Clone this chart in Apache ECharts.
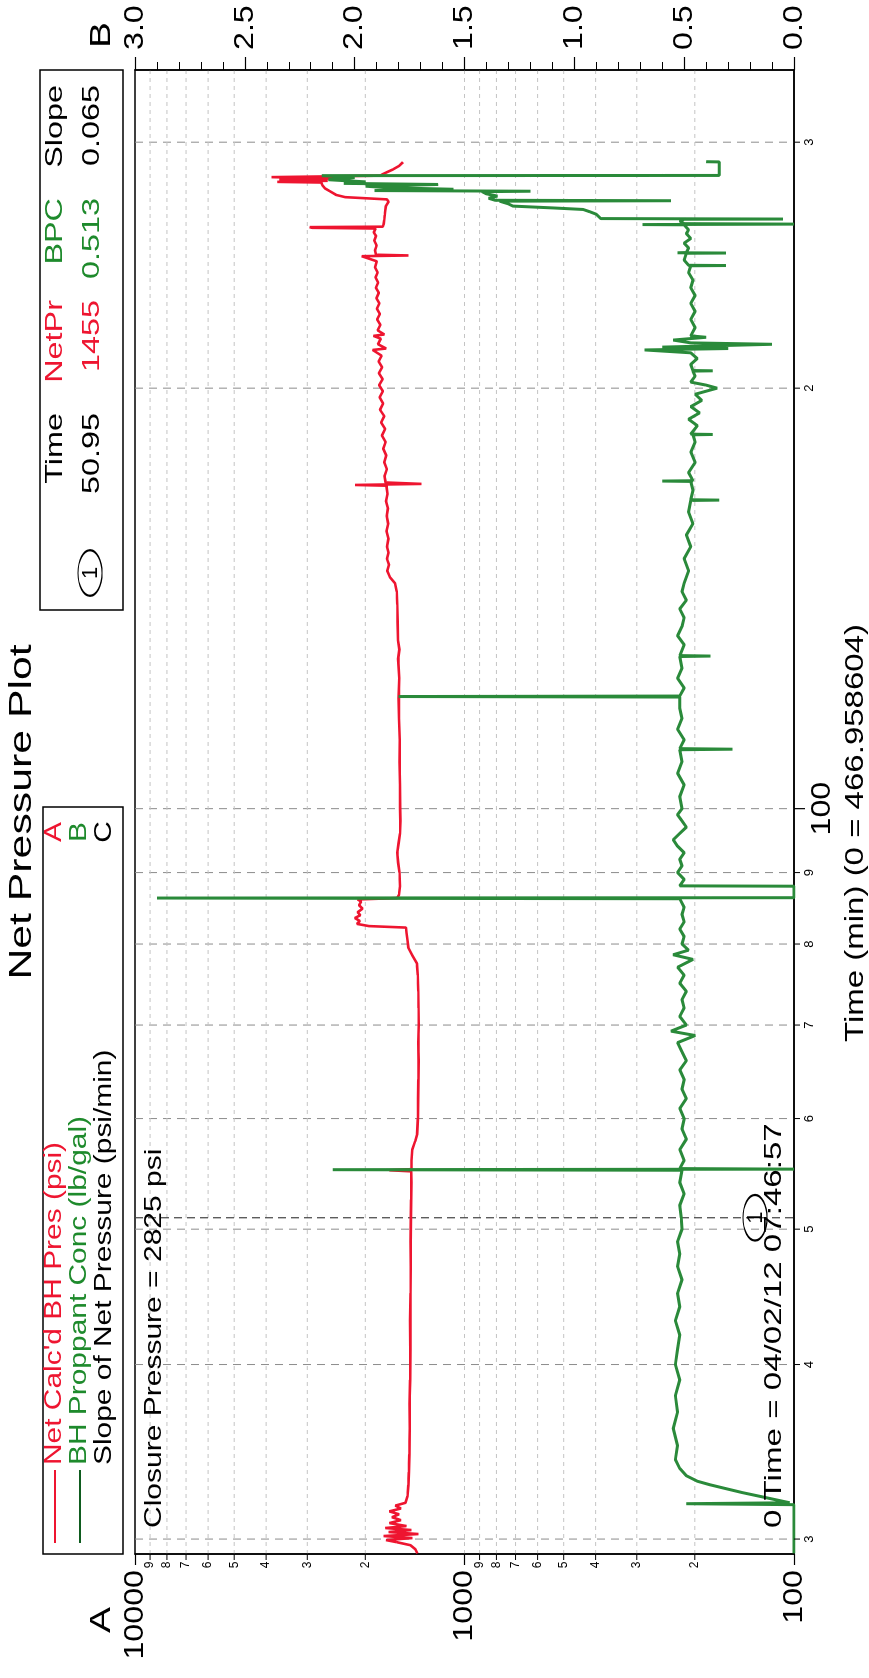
<!DOCTYPE html>
<html>
<head>
<meta charset="utf-8">
<script src="https://cdn.jsdelivr.net/npm/echarts@6/dist/echarts.min.js"></script>
<style>
html, body { margin: 0; padding: 0; background: #fff; width: 869px; height: 1678px; overflow: hidden; }
/* chart is drawn landscape, then turned a quarter left like the scanned page */
#main { position: absolute; left: 0; top: 0; width: 1678px; height: 869px;
        transform-origin: 0 0; transform: translateY(1678px) rotate(-90deg); }
</style>
</head>
<body>
<div id="main"></div>
<script>
const chart = echarts.init(document.getElementById('main'));
const FONT = "'Liberation Sans', Arial, Helvetica, sans-serif";

// axis ticks / labels
const timeMinorTicks = [30, 40, 50, 60, 70, 80, 90, 200, 300];
const timeMinorLabels = ['3', '4', '5', '6', '7', '8', '9', '2', '3'];
const timeMajorTicks = [100];
const presMajorTicks = [100, 1000, 10000];
const presMinorTicks = [200, 300, 400, 500, 600, 700, 800, 900, 2000, 3000, 4000, 5000, 6000, 7000, 8000, 9000];
const presMinorLabels = ['2', '3', '4', '5', '6', '7', '8', '9', '2', '3', '4', '5', '6', '7', '8', '9'];
const bpcTicks = [0, 0.5, 1.0, 1.5, 2.0, 2.5, 3.0];

// Net Calc'd BH Pres (psi)  [time, psi]
const netPr = [
  [29.3,1390],[29.5,1410],[29.7,1460],[29.85,1610],[29.95,1730],[30.05,1440],[30.15,1760],[30.25,1380],
  [30.35,1700],[30.45,1450],[30.55,1740],[30.65,1500],[30.8,1690],[30.95,1560],[31.1,1660],[31.25,1580],
  [31.4,1690],[31.55,1560],[31.7,1620],[31.85,1510],[32.2,1490],[32.8,1480],[33.5,1475],[34.5,1470],
  [36,1466],[37.5,1468],[39,1462],[41,1460],[43,1462],[45,1458],[47,1456],[49,1457],[50.95,1455],
  [52.5,1452],[54,1450],[55.0,1452],[55.1,1690],[55.2,1450],[56,1448],[57,1440],[57.8,1412],[58.5,1392],
  [60,1385],[62,1383],[64,1380],[66,1378],[68,1381],[70,1377],[72,1379],[74,1382],[76,1386],[77.5,1395],
  [78.5,1440],[79.5,1480],[80.5,1490],[81.5,1500],[82.2,1505],[82.4,1950],[82.7,2120],[83.1,2080],
  [83.5,2150],[83.9,2070],[84.3,2110],[84.8,2040],[85.3,2090],[85.8,2060],[86.1,2110],[86.3,1600],
  [86.8,1580],[88,1570],[90,1575],[91.5,1590],[93,1600],[94.5,1585],[96,1570],[98,1565],[100,1568],
  [104,1570],[108,1575],[112,1572],[116,1580],[120,1585],[124,1578],[128,1590],[130,1576],[132,1592],
  [136,1596],[140,1600],[143,1606],[145,1625],[146.5,1685],[148,1715],[149.5,1695],[151,1720],[152.5,1700],
  [154,1718],[156,1702],[158,1725],[160,1705],[162,1722],[164,1708],[166,1730],[168,1712],[170.3,1726],
  [170.5,2150],[170.8,1350],[171.2,1735],[173,1750],[175,1720],[177,1752],[179,1728],[181,1765],[183,1735],
  [185,1780],[187,1742],[189,1790],[191,1752],[193,1805],[195,1765],[197,1810],[199,1770],[201,1815],
  [203,1772],[205,1818],[207,1778],[209,1822],[211,1785],[213,1900],[213.5,1730],[215,1830],[217,1795],
  [218,1890],[218.5,1750],[220,1835],[222,1800],[224,1842],[226,1806],[228,1845],[230,1812],[232,1850],
  [234,1820],[236,1858],[238,1828],[240,1862],[242,1835],[244,1868],[246.5,1845],[248.6,2050],[248.9,1480],
  [249.2,1855],[251,1870],[253,1848],[255,1878],[257,1855],[258.5,1885],[260.2,1860],[260.5,2900],
  [260.8,2950],[261.0,1770],[262,1760],[264,1752],[266,1745],[268,1740],[270,1732],[272,1700],[273,1720],
  [274,2300],[275,2450],[276.5,2550],[278,2650],[279.5,2700],[280.7,2720],[281.0,3700],[281.5,2600],
  [282.0,3650],[282.6,2500],[283.2,3850],[283.9,1800],[284.6,1770],[285.5,1720],[286.8,1650],[288.5,1580],
  [290.3,1537]
];

// BH Proppant Conc (lb/gal)  [time, lb/gal]
const bpc = [
  [29.3,0],[31.75,0],[31.8,0.49],[31.85,0.02],[32.0,0.08],[32.2,0.16],[32.4,0.24],[32.6,0.31],[32.8,0.38],
  [33.0,0.44],[33.3,0.49],[33.7,0.52],[34.2,0.54],[35,0.53],[36,0.55],[37,0.53],[38,0.54],[39,0.52],
  [40,0.54],[41,0.53],[42,0.52],[43,0.54],[44,0.52],[45,0.53],[46,0.51],[47,0.53],[48,0.52],[49,0.53],
  [50,0.51],[50.95,0.513],[52,0.52],[53,0.50],[54,0.52],[55.1,0.51],[55.15,2.10],[55.2,0.0],[55.25,0.52],
  [56,0.50],[57,0.52],[58,0.49],[59,0.51],[60,0.50],[61,0.52],[62,0.49],[63,0.51],[64,0.50],[65,0.52],
  [66,0.49],[67,0.51],[68,0.53],[68.8,0.45],[69.3,0.56],[70,0.49],[71,0.52],[72,0.50],[73,0.51],[74,0.49],
  [75,0.52],[76,0.50],[77,0.53],[78,0.46],[78.6,0.55],[79.2,0.48],[80,0.51],[81,0.50],[82,0.52],[83,0.50],
  [84,0.51],[85,0.50],[86.2,0.52],[86.3,2.90],[86.35,0.0],[88.0,0.0],[88.05,0.52],[89,0.50],[90,0.53],
  [91,0.51],[92,0.52],[93,0.50],[94,0.53],[95,0.55],[96,0.52],[97,0.49],[98,0.51],[99,0.53],[100,0.51],
  [102,0.52],[104,0.50],[106,0.53],[108,0.51],[110.2,0.52],[110.3,0.28],[110.4,0.52],[112,0.50],[114,0.53],
  [116,0.51],[118,0.52],[120.2,0.52],[120.3,1.80],[120.4,0.52],[122,0.50],[124,0.53],[126,0.51],[128.5,0.52],
  [128.6,0.38],[128.7,0.52],[131,0.50],[133,0.53],[135,0.51],[137,0.50],[139,0.52],[141,0.49],[143,0.51],
  [145,0.50],[148,0.48],[151,0.50],[154,0.47],[157,0.49],[160,0.46],[163,0.48],[166.2,0.47],[166.3,0.34],
  [166.4,0.47],[169,0.46],[171.5,0.47],[171.6,0.60],[171.7,0.46],[174,0.48],[177,0.45],[180,0.47],[183,0.45],
  [185.2,0.46],[185.3,0.37],[185.4,0.47],[188,0.44],[190,0.48],[192,0.43],[194,0.47],[196,0.42],[198,0.45],
  [199,0.40],[200,0.35],[201,0.40],[202,0.47],[204,0.45],[205.7,0.46],[205.8,0.37],[205.9,0.46],[208,0.47],
  [210,0.44],[212,0.47],[213,0.68],[213.5,0.30],[214,0.60],[215,0.10],[215.5,0.47],[216.5,0.55],[217.5,0.40],
  [218,0.47],[221,0.45],[224,0.47],[227,0.45],[230,0.47],[233,0.45],[236,0.47],[239,0.46],[242,0.48],
  [244.7,0.47],[244.8,0.31],[244.9,0.48],[247,0.50],[249.8,0.49],[249.9,0.31],[250.0,0.53],[250.1,0.49],
  [252,0.48],[254,0.50],[256,0.47],[258,0.49],[259.6,0.48],[261.8,0.50],[261.9,0.69],[262.1,0.0],[262.3,0.50],
  [263.5,0.52],[264.2,0.50],[264.3,0.05],[264.5,0.88],[266.4,0.90],[267.5,0.93],[268.5,0.96],[269.2,1.10],
  [270,1.28],[271,1.30],[272.2,1.34],[272.4,0.56],[272.6,1.36],[273.5,1.39],[274.5,1.35],[275.5,1.40],
  [276.5,1.42],[276.7,1.20],[277.0,1.91],[277.6,1.55],[278.3,1.85],[279,1.95],[279.8,1.62],[280.3,2.05],
  [281,1.95],[282,2.12],[283,2.0],[283.9,2.15],[284.0,0.34],[290.4,0.34],[290.5,0.40]
];

const RED = '#ee1530';
const GREEN = '#2a8a3a';

option = {
  animation: false,
  textStyle: { fontFamily: FONT },
  grid: { left: 124, right: 70, top: 135, bottom: 75, show: true, borderColor: '#000', borderWidth: 1.5 },
  xAxis: {
    type: 'log', logBase: 10, min: 29.27, max: 337.9,
    axisLine: { lineStyle: { color: '#000', width: 1.5 } },
    axisTick: { show: false }, axisLabel: { show: false }, splitLine: { show: false }
  },
  yAxis: [
    {
      type: 'log', logBase: 10, min: 100, max: 10000, position: 'left',
      axisLine: { show: true, lineStyle: { color: '#000', width: 1.5 } },
      axisTick: { show: true, length: 11, lineStyle: { color: '#000', width: 1.2 } },
      axisLabel: { show: false }, splitLine: { show: false }
    },
    {
      type: 'value', min: 0, max: 3, interval: 0.5, position: 'right',
      axisLine: { show: true, lineStyle: { color: '#000', width: 1.5 } },
      axisTick: { show: true, length: 13, lineStyle: { color: '#000', width: 1.2 } },
      minorTick: { show: true, splitNumber: 5, length: 8, lineStyle: { color: '#000', width: 1 } },
      axisLabel: { show: false }, splitLine: { show: false }
    }
  ],
  series: [
    {
      name: 'NetPr', type: 'line', xAxisIndex: 0, yAxisIndex: 0, data: netPr,
      symbol: 'none', lineStyle: { color: RED, width: 2.6 }, z: 2
    },
    {
      name: 'BPC', type: 'line', xAxisIndex: 0, yAxisIndex: 1, data: bpc,
      symbol: 'none', lineStyle: { color: GREEN, width: 3 }, z: 3
    }
  ]
};
chart.setOption(option);

// ---- grid lines, minor ticks and all texts, placed with the axes' own scales ----
const px = v => chart.convertToPixel({ xAxisIndex: 0 }, v);
const pa = v => chart.convertToPixel({ yAxisIndex: 0 }, v);
const pb = v => chart.convertToPixel({ yAxisIndex: 1 }, v);
const gl = px(29.27), gr = px(337.9), gt = pa(10000), gb = pa(100);

function seg(x1, y1, x2, y2, color, w, dash, z) {
  return { type: 'line', silent: true, z: z == null ? 0 : z,
    shape: { x1: x1, y1: y1, x2: x2, y2: y2 },
    style: { stroke: color, lineWidth: w, lineDash: dash || null } };
}
function txt(x, y, s, size, color, align, sx) {
  return { type: 'text', silent: true, z: 50, x: x, y: y, scaleX: sx || 1.3,
    style: { text: s, fontSize: size, fontFamily: FONT, fill: color || '#000',
             align: align || 'left', verticalAlign: 'middle' } };
}
function oval(cx, cy) {
  return { type: 'circle', silent: true, z: 50, x: cx, y: cy, scaleX: 1.9,
    shape: { cx: 0, cy: 0, r: 12 }, style: { fill: null, stroke: '#000', lineWidth: 1.2 } };
}

const els = [];
// time grid lines and ticks
timeMinorTicks.concat(timeMajorTicks).forEach(t => {
  els.push(seg(px(t), gt, px(t), gb, '#8c8c8c', 1, [8, 6]));
});
timeMinorTicks.forEach((t, i) => {
  els.push(seg(px(t), gb, px(t), gb + 6, '#000', 1, null, 5));
  els.push(txt(px(t), gb + 15, timeMinorLabels[i], 13, '#000', 'center', 1));
});
timeMajorTicks.forEach(t => {
  els.push(seg(px(t), gb, px(t), gb + 11, '#000', 1.2, null, 5));
  els.push(txt(px(t), gb + 28, String(t), 28, '#000', 'center', 1.15));
});
// pressure grid lines, minor ticks and labels
presMinorTicks.concat([1000]).forEach(v => {
  els.push(seg(gl, pa(v), gr, pa(v), '#c4c4c4', 1, [4, 4]));
});
presMinorTicks.forEach((v, i) => {
  els.push(seg(gl - 6, pa(v), gl, pa(v), '#000', 1, null, 5));
  els.push(txt(gl - 11, pa(v), presMinorLabels[i], 12, '#000', 'center', 1));
});
presMajorTicks.forEach(v => {
  els.push(txt(gl - 16, pa(v), String(v), 28, '#000', 'right', 1.15));
});
bpcTicks.forEach(v => {
  els.push(txt(gr + 20, pb(v), v.toFixed(1), 28, '#000', 'left', 1.15));
});
els.push(txt(gl - 66, gt - 33, 'A', 30, '#000', 'center'));
els.push(txt(gr + 35, gt - 33, 'B', 30, '#000', 'center'));

// title and axis name
els.push(txt((gl + gr) / 2, 22, 'Net Pressure Plot', 31, '#000', 'center', 1.38));
els.push(txt(845, gb + 62, 'Time (min) (0 = 466.958604)', 26, '#000', 'center', 1.27));

// legend box
els.push({ type: 'rect', silent: true, z: 40, shape: { x: gl, y: 43, width: 747, height: 80 },
  style: { fill: '#fff', stroke: '#000', lineWidth: 1.5 } });
els.push(seg(gl + 11, 55, gl + 84, 55, RED, 2.2, null, 50));
els.push(seg(gl + 11, 80, gl + 84, 80, '#0f5c1f', 2.2, null, 50));
els.push(txt(gl + 89, 55, "Net Calc'd BH Pres (psi)", 23, RED));
els.push(txt(gl + 89, 80, 'BH Proppant Conc (lb/gal)', 23, '#1e8a2c'));
els.push(txt(gl + 89, 105, 'Slope of Net Pressure (psi/min)', 23, '#000'));
els.push(txt(846, 55, 'A', 23, RED, 'center'));
els.push(txt(846, 80, 'B', 23, '#1e8a2c', 'center'));
els.push(txt(846, 105, 'C', 23, '#000', 'center'));

// readout box
els.push({ type: 'rect', silent: true, z: 40, shape: { x: 1068, y: 40, width: gr - 1068, height: 83 },
  style: { fill: '#fff', stroke: '#000', lineWidth: 1.5 } });
els.push(oval(1105, 90));
els.push(txt(1105, 91, '1', 22, '#000', 'center', 1));
const cols = [[1265, 'Time', '50.95', '#000'], [1378, 'NetPr', '1455', RED],
              [1480, 'BPC', '0.513', '#1e8a2c'], [1593, 'Slope', '0.065', '#000']];
cols.forEach(c => {
  els.push(txt(c[0], 55, c[1], 24, c[3], 'right', 1.35));
  els.push(txt(c[0], 92, c[2], 24, c[3], 'right', 1.35));
});

// closure pressure note and the marker at 50.95 min
els.push(txt(gl + 26, gt + 19, 'Closure Pressure = 2825 psi', 24, '#000', 'left', 1.25));
els.push(seg(px(50.95), gt, px(50.95), gb, '#444', 1.2, [8, 5], 1));
els.push(oval(px(50.95), 755));
els.push(txt(px(50.95), 756, '1', 22, '#000', 'center', 1));
els.push(txt(gl + 26, 774, '0 Time = 04/02/12 07:46:57', 24, '#000', 'left', 1.38));

chart.setOption({ graphic: { elements: els } });
</script>
</body>
</html>
